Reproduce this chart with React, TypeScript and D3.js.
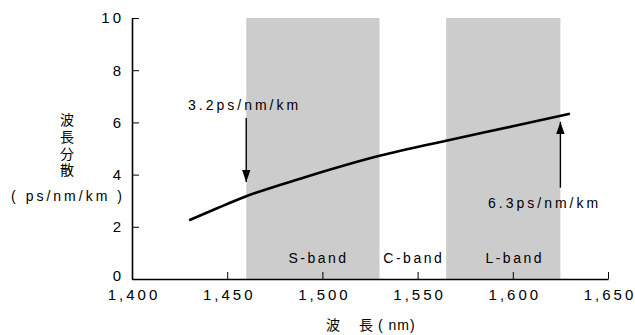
import { useEffect, useRef } from 'react';
import * as d3 from 'd3';

// Dispersion curve (nm, ps/nm/km)
const wavelengths = [1430, 1445, 1460, 1490, 1530, 1565, 1600, 1630];
const dispersion = [2.25, 2.72, 3.17, 3.88, 4.72, 5.3, 5.85, 6.33];

// Wavelength bands
const bandNames = ['S-band', 'C-band', 'L-band'];
const bandStarts = [1460, 1530, 1565];
const bandEnds = [1530, 1565, 1625];
const bandShaded = [true, false, true];
const bandLabelAt = [1498, 1548, 1601];

const xTicks = [1400, 1450, 1500, 1550, 1600, 1650];
const yTicks = [0, 2, 4, 6, 8, 10];

// Arrow annotations
const noteLabels = ['3.2ps/nm/km', '6.3ps/nm/km'];
const noteX = [1460, 1625];
const noteFrom = [6.17, 3.5];
const noteTo = [3.72, 6.02];

const FONT = '"Liberation Sans", Arial, sans-serif';
const CJK = '"Noto Sans CJK JP", sans-serif';

export default function App() {
  const svgRef = useRef<SVGSVGElement>(null);

  useEffect(() => {
    if (!svgRef.current) return;
    const svg = d3.select(svgRef.current);
    svg.selectAll('*').remove();

    const x = d3.scaleLinear().domain([1400, 1650]).range([132, 608]);
    const y = d3.scaleLinear().domain([0, 10]).range([279, 18]);

    const defs = svg.append('defs');
    defs.append('marker').attr('id', 'arrowHead')
      .attr('viewBox', '0 0 10 10').attr('refX', 10).attr('refY', 5)
      .attr('markerWidth', 12).attr('markerHeight', 12).attr('markerUnits', 'userSpaceOnUse')
      .attr('orient', 'auto')
      .append('path').attr('d', 'M0,1.5L10,5L0,8.5Z').attr('fill', '#000');

    // Bands
    const bands = bandNames.map((name, i) => ({ name, s: bandStarts[i], e: bandEnds[i], shaded: bandShaded[i], at: bandLabelAt[i] }));
    svg.append('g').selectAll('rect').data(bands.filter(b => b.shaded)).enter().append('rect')
      .attr('x', d => x(d.s)).attr('width', d => x(d.e) - x(d.s))
      .attr('y', y(10)).attr('height', y(0) - y(10))
      .attr('fill', '#cccccc');
    svg.append('g').selectAll('text').data(bands).enter().append('text')
      .attr('x', d => x(d.at)).attr('y', 263).attr('text-anchor', 'middle')
      .attr('font-family', FONT).attr('font-size', 14).attr('letter-spacing', 2.5)
      .attr('fill', '#000').text(d => d.name);

    // Axes
    const yAxis = d3.axisLeft(y).tickValues(yTicks).tickSizeInner(-7).tickSizeOuter(0).tickPadding(8);
    const gy = svg.append('g').attr('transform', 'translate(132,0)').call(yAxis);
    const xAxis = d3.axisBottom(x).tickValues(xTicks).tickSizeInner(-7).tickSizeOuter(0).tickPadding(10)
      .tickFormat(d3.format(','));
    const gx = svg.append('g').attr('transform', 'translate(0,279)').call(xAxis);
    [gx, gy].forEach(g => {
      g.select('.domain').attr('stroke', '#000').attr('stroke-width', 1.6);
      g.selectAll('.tick line').attr('stroke', '#000').attr('stroke-width', 1);
      g.selectAll('.tick text').attr('font-family', FONT).attr('font-size', 15)
        .attr('letter-spacing', 3).attr('fill', '#000');
    });
    gx.selectAll('.tick text').attr('dx', 1.5);
    // lift the "0" label a touch so it clears the x labels
    gy.selectAll<SVGTextElement, number>('.tick text').filter(d => d === 0).attr('dy', '0.12em');

    // Curve
    const pts = wavelengths.map((w, i) => [w, dispersion[i]] as [number, number]);
    const line = d3.line<[number, number]>().x(d => x(d[0])).y(d => y(d[1])).curve(d3.curveMonotoneX);
    svg.append('path').datum(pts).attr('d', line)
      .attr('fill', 'none').attr('stroke', '#000').attr('stroke-width', 2.6);

    // Arrows and labels
    noteLabels.forEach((_, i) => {
      svg.append('line')
        .attr('x1', x(noteX[i])).attr('x2', x(noteX[i]))
        .attr('y1', y(noteFrom[i])).attr('y2', y(noteTo[i]))
        .attr('stroke', '#000').attr('stroke-width', 1.4).attr('marker-end', 'url(#arrowHead)');
    });
    svg.append('text').attr('x', 188).attr('y', 110)
      .attr('font-family', FONT).attr('font-size', 14).attr('letter-spacing', 3)
      .attr('fill', '#000').text(noteLabels[0]);
    svg.append('text').attr('x', 488).attr('y', 208)
      .attr('font-family', FONT).attr('font-size', 14).attr('letter-spacing', 3)
      .attr('fill', '#000').text(noteLabels[1]);

    // Y axis title (vertical)
    svg.append('text').attr('x', 67).attr('y', 113)
      .style('writing-mode', 'vertical-rl')
      .attr('font-family', CJK).attr('font-size', 14).attr('letter-spacing', 2.6)
      .attr('fill', '#000').text('波長分散');
    svg.append('text').attr('x', 68).attr('y', 201).attr('text-anchor', 'middle')
      .attr('font-family', FONT).attr('font-size', 14).attr('letter-spacing', 3)
      .attr('fill', '#000').text('( ps/nm/km )');

    // X axis title
    svg.append('text').attr('x', 333).attr('y', 330).attr('text-anchor', 'middle')
      .attr('font-family', CJK).attr('font-size', 14).attr('fill', '#000').text('波');
    const xt = svg.append('text').attr('x', 359).attr('y', 330)
      .attr('font-family', CJK).attr('font-size', 14).attr('fill', '#000');
    xt.append('tspan').text('長');
    xt.append('tspan').attr('font-family', FONT).attr('letter-spacing', 1).text(' ( nm)');
  }, []);

  return (
    <svg ref={svgRef} width={635} height={335} viewBox="0 0 635 335"
      style={{ position: 'absolute', left: 0, top: 0, background: '#fff' }} />
  );
}
